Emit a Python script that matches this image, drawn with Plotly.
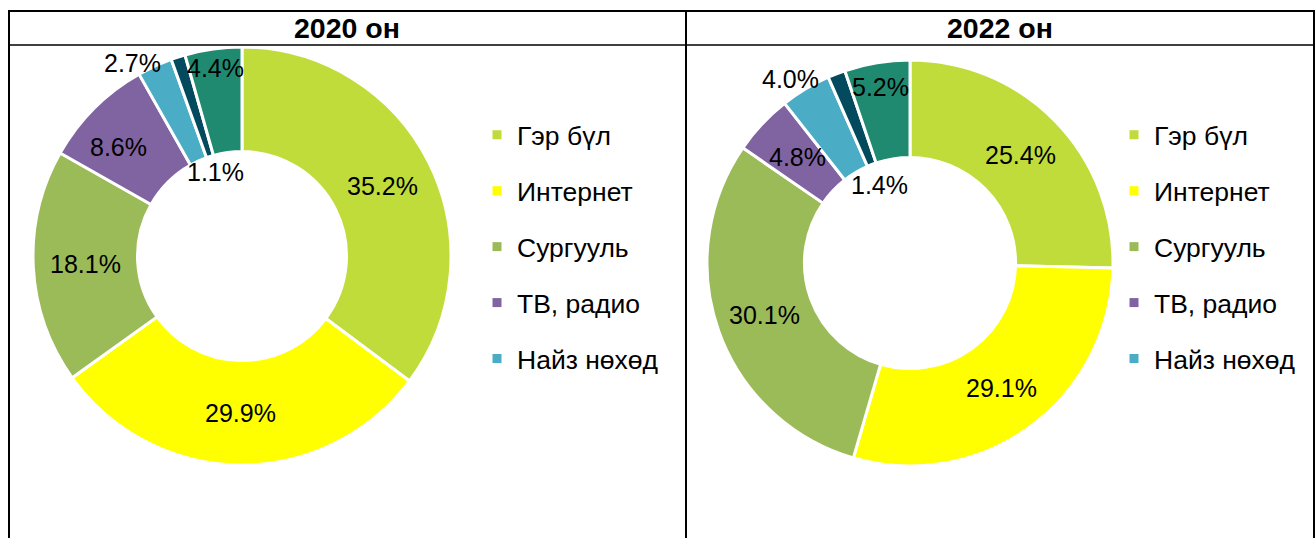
import math
import plotly.graph_objects as go

W, H = 1316, 538

categories = ["Гэр бүл", "Интернет", "Сургууль", "ТВ, радио", "Найз нөхөд", "Ном", "Бусад"]
legend_count = 5  # only the first five appear in the legend
values_2020 = [35.2, 29.9, 18.1, 8.6, 2.7, 1.1, 4.4]
values_2022 = [25.4, 29.1, 30.1, 4.8, 4.0, 1.4, 5.2]
titles = ["2020 он", "2022 он"]

colors = ["#C0DC3A", "#FFFF00", "#9BBB59", "#8064A2", "#4BACC6", "#034A5E", "#1F8A70"]
FONT = "Liberation Sans, Arial, sans-serif"
LABEL_SIZE = 25
LEGEND_SIZE = 26.5

# geometry (pixels): center x, center y, outer radius, hole fraction,
# label radius factors and small angular nudges (degrees) for label placement
pies = [
    dict(cx=242, cy=256, R=209, hole=0.50, values=values_2020,
         rfac=[None, None, None, 0.79, 1.06, 0.42, 0.91],
         dang=[0, 0, 0, -3.5, -5, 0, 0]),
    dict(cx=910, cy=263, R=203, hole=0.52, values=values_2022,
         rfac=[None, None, None, None, 1.08, 0.41, 0.88],
         dang=[0, 0, 0, 0, -2, 0, 0]),
]

def px(x):
    return x / W

def py(y):
    return 1 - y / H

fig = go.Figure()
annotations = []
for p in pies:
    fig.add_trace(go.Pie(
        labels=categories, values=p["values"], hole=p["hole"], sort=False,
        direction="clockwise", rotation=0, textinfo="none", hoverinfo="label+value",
        marker=dict(colors=colors, line=dict(color="white", width=3)),
        domain=dict(x=[px(p["cx"] - p["R"]), px(p["cx"] + p["R"])],
                    y=[py(p["cy"] + p["R"]), py(p["cy"] - p["R"])]),
        showlegend=False,
    ))
    total = sum(p["values"])
    cum = 0
    ringmid = (1 + p["hole"]) / 2
    for v, f, da in zip(p["values"], p["rfac"], p["dang"]):
        theta = 2 * math.pi * (cum + v / 2) / total + math.radians(da)
        cum += v
        r = p["R"] * (f if f is not None else ringmid)
        x = p["cx"] + r * math.sin(theta)
        y = p["cy"] - r * math.cos(theta)
        annotations.append(dict(
            x=px(x), y=py(y), xref="paper", yref="paper", showarrow=False,
            text=f"{v:.1f}%", font=dict(family=FONT, size=LABEL_SIZE, color="black"),
            xanchor="center", yanchor="middle"))

# header titles
for t, xc in zip(titles, [347, 1000]):
    annotations.append(dict(x=px(xc), y=py(28), xref="paper", yref="paper", showarrow=False,
                            text=f"<b>{t}</b>", font=dict(family=FONT, size=28.5, color="black"),
                            xanchor="center", yanchor="middle"))

# legends
for li, lname in enumerate(["legend", "legend2"]):
    for i in range(legend_count):
        fig.add_trace(go.Scatter(
            x=[None], y=[None], mode="markers", name=categories[i],
            marker=dict(symbol="square", size=9, color=colors[i]),
            legend=lname, legendgroup=f"{lname}_{i}", showlegend=True, hoverinfo="skip"))

leg_common = dict(font=dict(family=FONT, size=LEGEND_SIZE, color="black"),
                  xanchor="left", yanchor="top", tracegroupgap=18.5,
                  bgcolor="rgba(0,0,0,0)", borderwidth=0)

# table borders
shapes = []
def line(x0, y0, x1, y1, w):
    shapes.append(dict(type="line", xref="paper", yref="paper",
                       x0=px(x0), y0=py(y0), x1=px(x1), y1=py(y1),
                       line=dict(color="black", width=w)))
line(9, 11, 1315, 11, 2)
line(9, 10, 9, 538, 2)
line(1314, 10, 1314, 538, 2)
line(686, 10, 686, 538, 2)
line(9, 45, 1315, 45, 1.3)

fig.update_layout(
    width=W, height=H, margin=dict(l=0, r=0, t=0, b=0),
    paper_bgcolor="white", plot_bgcolor="white",
    xaxis=dict(visible=False), yaxis=dict(visible=False),
    legend=dict(x=px(477), y=py(111), **leg_common),
    legend2=dict(x=px(1114), y=py(111), **leg_common),
    annotations=annotations, shapes=shapes,
    font=dict(family=FONT),
)

fig.write_html("out.html", config={"displayModeBar": False},
               post_script="document.body.style.margin='0px';")
